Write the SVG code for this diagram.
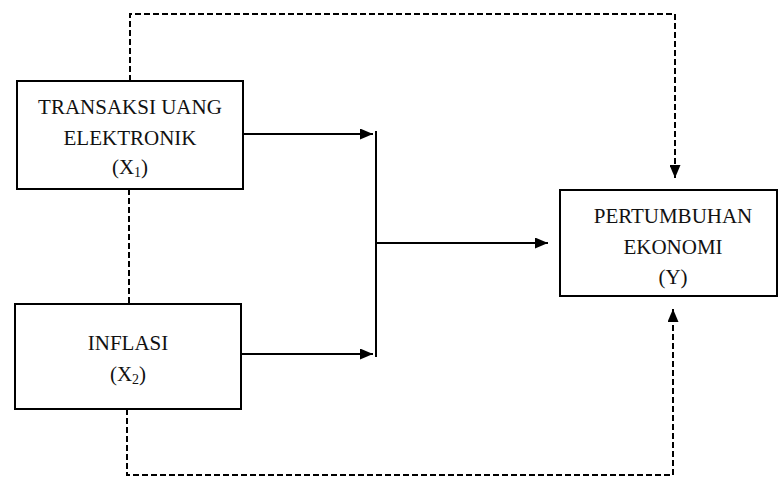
<svg xmlns="http://www.w3.org/2000/svg" width="778" height="477" viewBox="0 0 778 477">
<style>
.box{fill:#fff;stroke:#000;stroke-width:2}
.t{font-family:"Liberation Serif","Times New Roman",serif;font-size:21px;fill:#111;text-anchor:middle}
.sub{font-size:14px}
.solid{fill:none;stroke:#000;stroke-width:2}
.dash{fill:none;stroke:#000;stroke-width:2;stroke-dasharray:6 3}
</style>
<defs>
<marker id="ah" viewBox="0 0 13 11" refX="13" refY="5.5" markerWidth="13" markerHeight="11" markerUnits="userSpaceOnUse" orient="auto">
<path d="M0,0 L13,5.5 L0,11 Z" fill="#000"/>
</marker>
</defs>
<g id="connectors">
<path class="dash" d="M130,81 V14 H675 V178" marker-end="url(#ah)"/>
<path class="dash" d="M129,189 V304"/>
<path class="dash" d="M127,409 V475 H673 V309" marker-end="url(#ah)"/>
<path class="solid" d="M243,134 H373" marker-end="url(#ah)"/>
<path class="solid" d="M241,354 H373" marker-end="url(#ah)"/>
<path class="solid" d="M376,131 V357"/>
<path class="solid" d="M376,243 H548" marker-end="url(#ah)"/>
</g>
<g id="x1">
<rect class="box" x="17" y="81" width="226" height="108"/>
<text class="t" x="130" y="114">TRANSAKSI UANG</text>
<text class="t" x="130" y="145">ELEKTRONIK</text>
<text class="t" x="130" y="174">(X<tspan class="sub" dy="3">1</tspan><tspan dy="-3">)</tspan></text>
</g>
<g id="x2">
<rect class="box" x="15" y="304" width="226" height="105"/>
<text class="t" x="128" y="350">INFLASI</text>
<text class="t" x="128" y="381">(X<tspan class="sub" dy="3">2</tspan><tspan dy="-3">)</tspan></text>
</g>
<g id="y">
<rect class="box" x="560" y="190" width="217" height="106"/>
<text class="t" x="673" y="223">PERTUMBUHAN</text>
<text class="t" x="673" y="254">EKONOMI</text>
<text class="t" x="673" y="284">(Y)</text>
</g>
</svg>
